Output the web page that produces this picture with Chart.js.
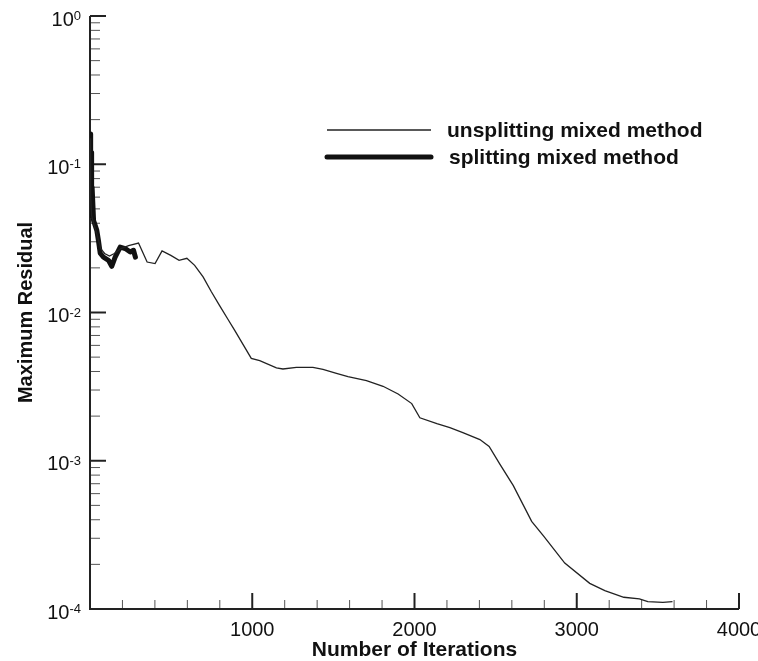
<!DOCTYPE html>
<html>
<head>
<meta charset="utf-8">
<script src="https://cdn.jsdelivr.net/npm/chart.js@4.4.0/dist/chart.umd.min.js"></script>
<style>
html, body { margin: 0; padding: 0; background: #fff; }
#wrap { width: 758px; height: 661px; }
</style>
</head>
<body>
<div id="wrap"><canvas id="residual-chart" width="758" height="661"></canvas></div>
<script>
// data
const seriesNames = ['unsplitting mixed method', 'splitting mixed method'];

const unsplitIter = [0, 4, 10, 22, 42, 55, 66, 90, 120, 150, 190, 238, 299, 352, 401, 444, 498, 549, 597, 645, 697, 748, 797, 850, 891, 994, 1046, 1149, 1189, 1272, 1374, 1436, 1519, 1590, 1704, 1806, 1899, 1983, 2033, 2138, 2218, 2298, 2403, 2460, 2526, 2609, 2722, 2796, 2926, 3080, 3173, 3290, 3386, 3438, 3531, 3590];
const unsplitRes = [0.15, 0.06, 0.045, 0.04, 0.034, 0.03, 0.027, 0.025, 0.024, 0.025, 0.027, 0.0283, 0.0294, 0.0219, 0.0214, 0.026, 0.0243, 0.0225, 0.0232, 0.0208, 0.0174, 0.0138, 0.0112, 0.009, 0.0076, 0.0049, 0.00474, 0.00423, 0.00416, 0.00427, 0.00427, 0.00414, 0.00389, 0.0037, 0.00347, 0.00318, 0.00282, 0.00243, 0.00195, 0.00178, 0.00167, 0.00155, 0.00139, 0.00125, 0.00095, 0.00068, 0.00039, 0.00031, 0.000204, 0.000149, 0.000133, 0.00012, 0.000117, 0.000112, 0.000111, 0.000112];

const splitIter = [0, 2, 4, 6, 8, 10, 13, 22, 42, 52, 63, 83, 114, 134, 155, 186, 217, 248, 268, 280];
const splitRes = [0.16, 0.05, 0.15, 0.046, 0.12, 0.045, 0.07, 0.0418, 0.0358, 0.0306, 0.0251, 0.0236, 0.0225, 0.0205, 0.0236, 0.0276, 0.027, 0.0256, 0.0263, 0.0236];

const xTicks = [1000, 2000, 3000, 4000];
const yExponents = [0, -1, -2, -3, -4];

const FONT = '"Liberation Sans", Arial, sans-serif';

function toPoints(xs, ys) {
    return xs.map((x, i) => ({ x: x, y: ys[i] }));
}

// axes, ticks, labels and legend drawn by hand (tecplot look)
const tecplotAxes = {
    id: 'tecplotAxes',
    beforeDatasetsDraw(chart) {
        const ctx = chart.ctx;
        const xs = chart.scales.x, ys = chart.scales.y;
        const a = chart.chartArea;
        ctx.save();
        ctx.strokeStyle = '#222';
        ctx.lineCap = 'butt';

        // y ticks
        yExponents.forEach(e => {
            const py = ys.getPixelForValue(Math.pow(10, e));
            ctx.lineWidth = 2;
            ctx.beginPath(); ctx.moveTo(a.left, py); ctx.lineTo(a.left + 16, py); ctx.stroke();
            if (e > -4) {
                ctx.lineWidth = 1;
                ctx.strokeStyle = '#555';
                for (let k = 2; k <= 9; k++) {
                    const my = ys.getPixelForValue(k * Math.pow(10, e - 1));
                    ctx.beginPath(); ctx.moveTo(a.left, my); ctx.lineTo(a.left + 10, my); ctx.stroke();
                }
                ctx.strokeStyle = '#222';
            }
        });

        // x ticks
        for (let v = 200; v <= 4000; v += 200) {
            const px = xs.getPixelForValue(v);
            const major = v % 1000 === 0;
            ctx.lineWidth = major ? 2 : 1;
            ctx.strokeStyle = major ? '#222' : '#555';
            ctx.beginPath(); ctx.moveTo(px, a.bottom); ctx.lineTo(px, a.bottom - (major ? 16 : 9)); ctx.stroke();
        }

        // axis lines
        ctx.strokeStyle = '#222';
        ctx.lineWidth = 2;
        ctx.beginPath();
        ctx.moveTo(a.left, a.top);
        ctx.lineTo(a.left, a.bottom);
        ctx.lineTo(a.right, a.bottom);
        ctx.stroke();
        ctx.restore();
    },
    afterDraw(chart) {
        const ctx = chart.ctx;
        const xs = chart.scales.x, ys = chart.scales.y;
        const a = chart.chartArea;
        ctx.save();
        ctx.fillStyle = '#111';

        // y tick labels 10^e
        yExponents.forEach(e => {
            const py = ys.getPixelForValue(Math.pow(10, e));
            const exp = String(e);
            ctx.font = '13px ' + FONT;
            const ew = ctx.measureText(exp).width;
            ctx.textAlign = 'right';
            ctx.textBaseline = 'alphabetic';
            ctx.fillText(exp, 81, py + 4);
            ctx.font = '20px ' + FONT;
            ctx.fillText('10', 81 - ew, py + 9.5);
        });

        // x tick labels
        ctx.font = '20px ' + FONT;
        ctx.textAlign = 'center';
        xTicks.forEach(v => {
            ctx.fillText(String(v), xs.getPixelForValue(v), 636);
        });

        // axis titles
        ctx.font = 'bold 21px ' + FONT;
        ctx.fillText('Number of Iterations', (a.left + a.right) / 2, 656);
        ctx.save();
        ctx.translate(32, (a.top + a.bottom) / 2);
        ctx.rotate(-Math.PI / 2);
        ctx.font = 'bold 20px ' + FONT;
        ctx.fillText('Maximum Residual', 0, 0);
        ctx.restore();

        // legend
        const rows = [{ y: 130, ty: 137 }, { y: 157, ty: 164 }];
        chart.data.datasets.forEach((ds, i) => {
            ctx.strokeStyle = ds.borderColor;
            ctx.lineWidth = ds.borderWidth;
            ctx.lineCap = i === 1 ? 'round' : 'butt';
            ctx.beginPath(); ctx.moveTo(327, rows[i].y); ctx.lineTo(431, rows[i].y); ctx.stroke();
            ctx.font = 'bold 21px ' + FONT;
            ctx.textAlign = 'left';
            ctx.fillStyle = '#111';
            ctx.fillText(ds.label, 447 + i * 2, rows[i].ty);
        });
        ctx.restore();
    }
};

const residualChart = new Chart(document.getElementById('residual-chart').getContext('2d'), {
    type: 'line',
    data: {
        datasets: [
            {
                label: seriesNames[0],
                data: toPoints(unsplitIter, unsplitRes),
                borderColor: '#222',
                borderWidth: 1.3,
                pointRadius: 0,
                tension: 0,
                fill: false
            },
            {
                label: seriesNames[1],
                data: toPoints(splitIter, splitRes),
                borderColor: '#111',
                borderWidth: 5,
                borderJoinStyle: 'round',
                borderCapStyle: 'round',
                pointRadius: 0,
                tension: 0,
                fill: false
            }
        ]
    },
    options: {
        responsive: false,
        animation: false,
        layout: { padding: { left: 90, right: 19, top: 16, bottom: 52 } },
        plugins: { legend: { display: false }, tooltip: { enabled: false } },
        scales: {
            x: { type: 'linear', min: 0, max: 4000, display: false },
            y: { type: 'logarithmic', min: 1e-4, max: 1, display: false }
        }
    },
    plugins: [tecplotAxes]
});
</script>
</body>
</html>
